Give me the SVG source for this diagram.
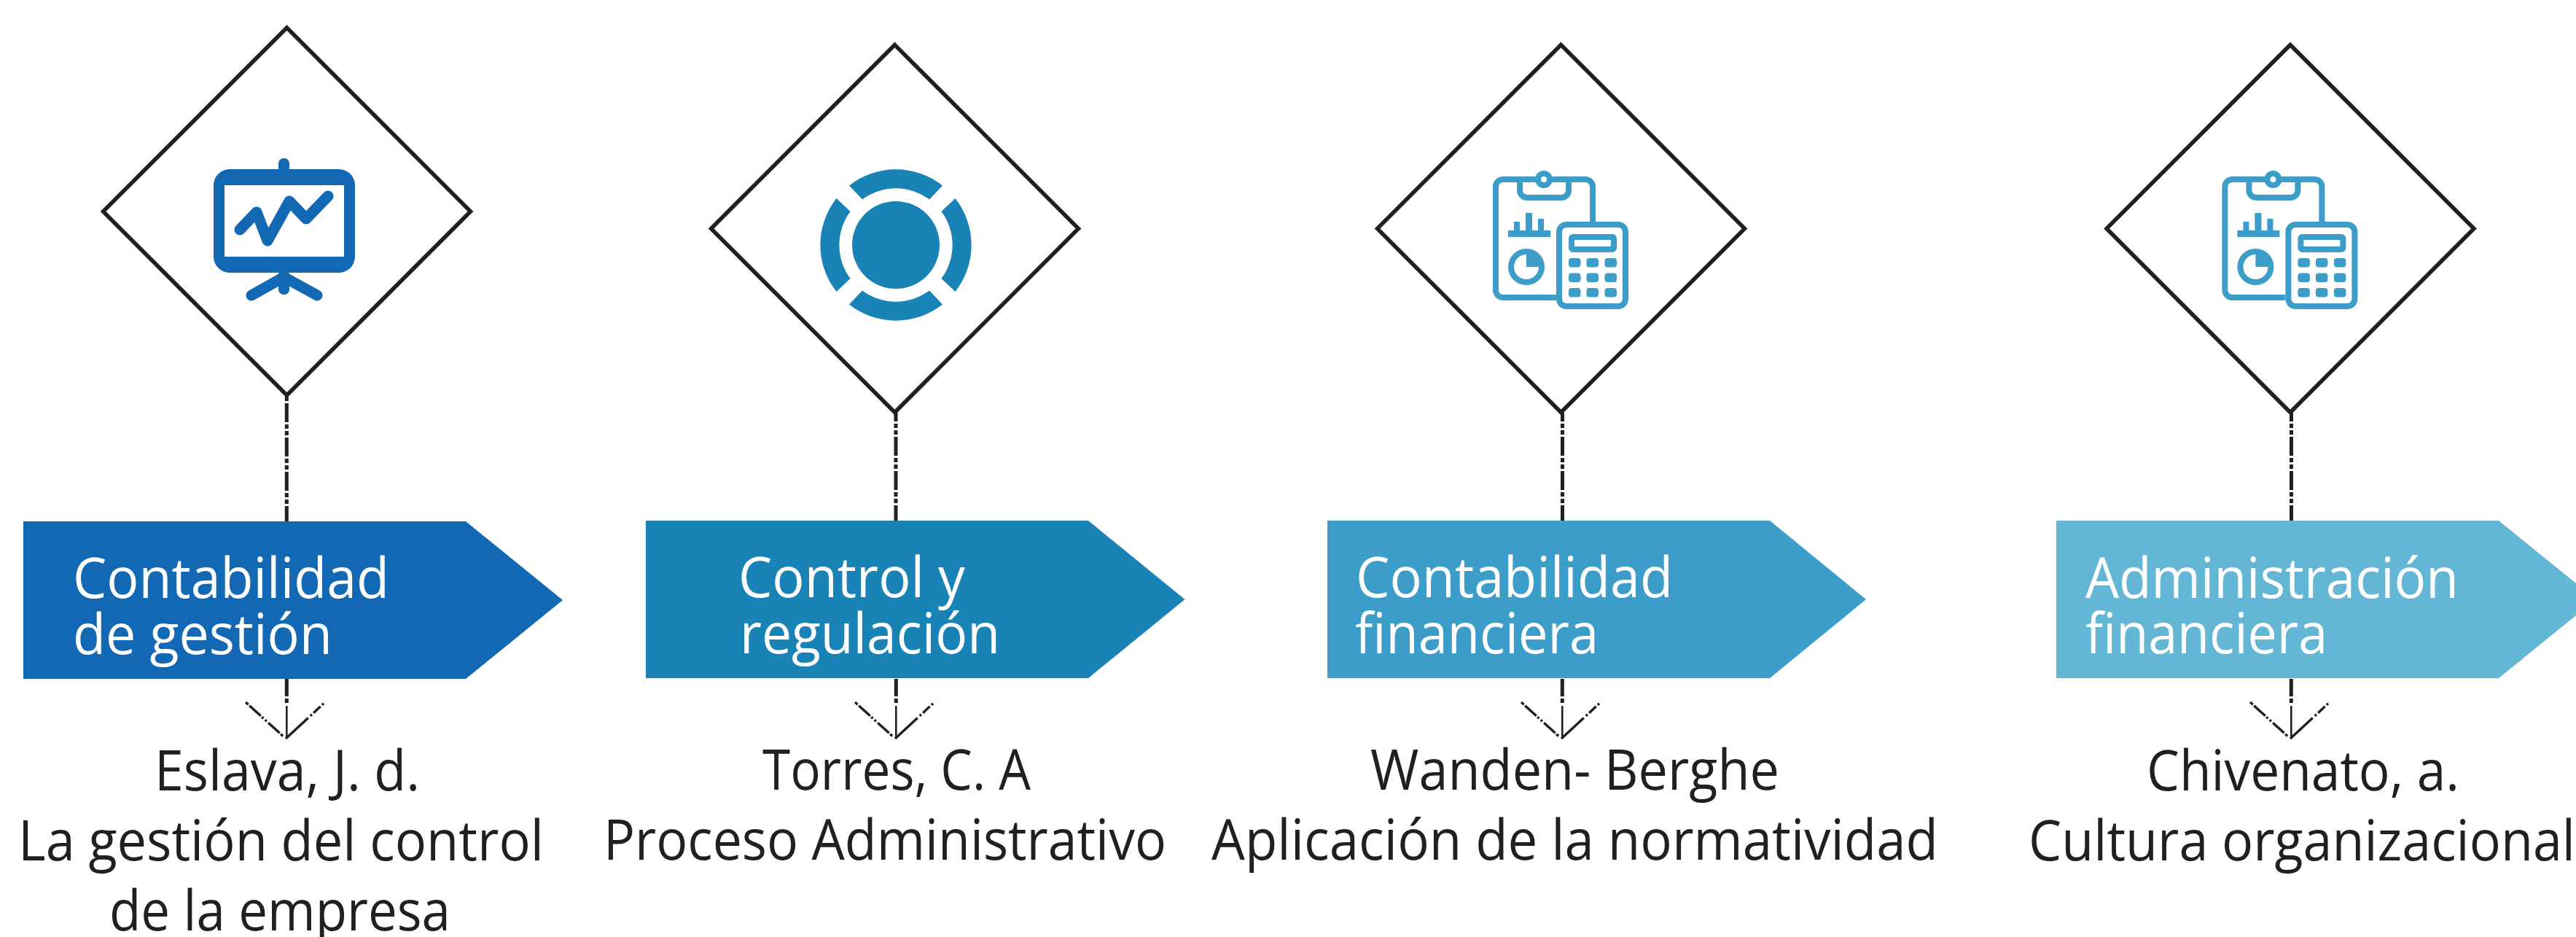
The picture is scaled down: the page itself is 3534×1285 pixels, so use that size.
<svg xmlns="http://www.w3.org/2000/svg" xmlns:xlink="http://www.w3.org/1999/xlink" width="3534" height="1285" viewBox="0 0 3534 1285">
<style>
text{font-family:"Open Sans","Noto Sans","Liberation Sans",sans-serif;font-size:77px}
.h{fill:#fff}
.b{fill:#231f20}
.d{fill:#fff;stroke:#231f20;stroke-width:5.500;stroke-miterlimit:10}
.stem{fill:none;stroke:#231f20;stroke-width:5;stroke-dasharray:26 3 6 3 6 3;stroke-dashoffset:37}
.thin{fill:none;stroke:#231f20;stroke-width:2.6}
.la{fill:none;stroke:#231f20;stroke-width:3.4;stroke-dasharray:5 2 21 2 3 3 3 3 21 2 4 30}
.ra{fill:none;stroke:#231f20;stroke-width:3.4;stroke-dasharray:42 4 3 3 13 3 3 40}
.ic{fill:none;stroke:#3c9dc8;stroke-width:8}
.if{fill:#3c9dc8}
</style>
<defs>
<g id="arrow">
<path class="la" d="M337,963 L391,1012"/>
<path class="ra" d="M392,1013 L447,962"/>
</g>
<path id="seg" fill="#1a83b6" d="M-64,-81.5 A103.5,103.5 0 0 1 64,-81.5 L46,-62.5 A77.5,77.5 0 0 0 -46,-62.5 Z"/>
<g id="calc">
<path class="ic" d="M2135,408 H2062 A10,10 0 0 1 2052,398 V256 A10,10 0 0 1 2062,246 H2175 A10,10 0 0 1 2185,256 V308"/>
<path class="ic" d="M2085,246 V261 A10,10 0 0 0 2095,271 H2142 A10,10 0 0 0 2152,261 V246"/>
<circle cx="2118" cy="246" r="8" fill="#fff" stroke="#3c9dc8" stroke-width="8"/>
<rect class="if" x="2069" y="316" width="58" height="9"/>
<rect class="if" x="2077" y="304" width="8" height="13"/>
<rect class="if" x="2093" y="292" width="9" height="25"/>
<rect class="if" x="2110" y="300" width="8" height="17"/>
<circle class="ic" cx="2094" cy="366" r="21"/>
<path class="if" d="M2094,366 V345 A21,21 0 0 1 2115,366 Z"/>
<rect x="2139" y="308" width="91" height="112" rx="10" fill="#fff" stroke="#3c9dc8" stroke-width="8"/>
<rect class="ic" x="2156" y="325" width="58" height="17" rx="2"/>
<g class="if">
<rect x="2152" y="354" width="16.500" height="12.500" rx="4"/><rect x="2176.500" y="354" width="16.500" height="12.500" rx="4"/><rect x="2201.500" y="354" width="16.500" height="12.500" rx="4"/>
<rect x="2152" y="374.500" width="16.500" height="12.500" rx="4"/><rect x="2176.500" y="374.500" width="16.500" height="12.500" rx="4"/><rect x="2201.500" y="374.500" width="16.500" height="12.500" rx="4"/>
<rect x="2152" y="395" width="16.500" height="12.500" rx="4"/><rect x="2176.500" y="395" width="16.500" height="12.500" rx="4"/><rect x="2201.500" y="395" width="16.500" height="12.500" rx="4"/>
</g>
</g>
</defs>
<rect width="3534" height="1285" fill="#fff"/>
<g id="connectors">
<path class="stem" d="M393.300,543 V715"/>
<path class="stem" d="M1229,566 V715" style="stroke-dashoffset:14"/>
<path class="stem" d="M2143.500,566 V715" style="stroke-dashoffset:14"/>
<path class="stem" d="M3143.500,566 V715" style="stroke-dashoffset:14"/>
<g id="down1"><path class="stem" d="M393.300,931 V968" style="stroke-dasharray:24 3 6 4"/><path class="thin" d="M393.300,968 V1012"/><use xlink:href="#arrow" href="#arrow"/></g>
<g id="down2" transform="translate(836 0)"><path class="stem" d="M393.300,931 V968" style="stroke-dasharray:24 3 6 4"/><path class="thin" d="M393.300,968 V1012"/><use xlink:href="#arrow" href="#arrow"/></g>
<g id="down3" transform="translate(1750 0)"><path class="stem" d="M393.300,931 V968" style="stroke-dasharray:24 3 6 4"/><path class="thin" d="M393.300,968 V1012"/><use xlink:href="#arrow" href="#arrow"/></g>
<g id="down4" transform="translate(2750 0)"><path class="stem" d="M393.300,931 V968" style="stroke-dasharray:24 3 6 4"/><path class="thin" d="M393.300,968 V1012"/><use xlink:href="#arrow" href="#arrow"/></g>
</g>
<g id="node1">
<polygon class="d" points="393.500,38 645.500,290 393.500,542 141.500,290"/>
<path fill="#1268b3" fill-rule="evenodd" d="M315,232 H465 A22,22 0 0 1 487,254 V352 A22,22 0 0 1 465,374 H315 A22,22 0 0 1 293,352 V254 A22,22 0 0 1 315,232 Z M308,254 V352 H472 V254 Z"/>
<rect x="382" y="217" width="15" height="20" rx="7" fill="#1268b3"/>
<rect x="382" y="370" width="15" height="34" rx="7" fill="#1268b3"/>
<path d="M345,405 L389.500,380 L435,405" fill="none" stroke="#1268b3" stroke-width="15" stroke-linecap="round" stroke-linejoin="round"/>
<path d="M329,315 L352,291 L367,330 L397,276 L420,300 L450,269" fill="none" stroke="#1268b3" stroke-width="15" stroke-linecap="round" stroke-linejoin="round"/>
<path fill="#1268b3" d="M32,715 H639 L772,823 L639,931 H32 Z"/>
<text class="h" x="100" y="820" textLength="434" lengthAdjust="spacingAndGlyphs">Contabilidad</text>
<text class="h" x="100" y="897" textLength="356" lengthAdjust="spacingAndGlyphs">de gestión</text>
<text class="b" x="212" y="1084" textLength="364" lengthAdjust="spacingAndGlyphs">Eslava, J. d.</text>
<text class="b" x="25" y="1180" textLength="721" lengthAdjust="spacingAndGlyphs">La gestión del control</text>
<text class="b" x="150" y="1276" textLength="468" lengthAdjust="spacingAndGlyphs">de la empresa</text>
</g>
<g id="node2">
<polygon class="d" points="1227.500,61.500 1479.500,313.500 1227.500,565.500 975.500,313.500"/>
<circle cx="1229" cy="336" r="60" fill="#1a83b6"/>
<g transform="translate(1229 336)">
<use xlink:href="#seg" href="#seg"/>
<use xlink:href="#seg" href="#seg" transform="rotate(90)"/>
<use xlink:href="#seg" href="#seg" transform="rotate(180)"/>
<use xlink:href="#seg" href="#seg" transform="rotate(270)"/>
</g>
<path fill="#1a83b6" d="M886,714 H1493 L1625.500,822 L1493,930 H886 Z"/>
<text class="h" x="1013" y="819" textLength="311" lengthAdjust="spacingAndGlyphs">Control y</text>
<text class="h" x="1015" y="896" textLength="357" lengthAdjust="spacingAndGlyphs">regulación</text>
<text class="b" x="1046" y="1083" textLength="368" lengthAdjust="spacingAndGlyphs">Torres, C. A</text>
<text class="b" x="828" y="1179" textLength="772" lengthAdjust="spacingAndGlyphs">Proceso Administrativo</text>
</g>
<g id="node3">
<polygon class="d" points="2141.500,61.500 2393.500,313.500 2141.500,565.500 1889.500,313.500"/>
<use xlink:href="#calc" href="#calc"/>
<path fill="#3c9dc8" d="M1821,714 H2428 L2560,822 L2428,930 H1821 Z"/>
<text class="h" x="1860" y="819" textLength="435" lengthAdjust="spacingAndGlyphs">Contabilidad</text>
<text class="h" x="1859" y="896" textLength="334" lengthAdjust="spacingAndGlyphs">financiera</text>
<text class="b" x="1880" y="1083" textLength="561" lengthAdjust="spacingAndGlyphs">Wanden- Berghe</text>
<text class="b" x="1662" y="1179" textLength="997" lengthAdjust="spacingAndGlyphs">Aplicación de la normatividad</text>
</g>
<g id="node4">
<polygon class="d" points="3142,61.500 3394,313.500 3142,565.500 2890,313.500"/>
<use xlink:href="#calc" href="#calc" transform="translate(1000.400 0)"/>
<path fill="#63b7d5" d="M2821,714 H3428 L3561,822 L3428,930 H2821 Z"/>
<text class="h" x="2861" y="820" textLength="512" lengthAdjust="spacingAndGlyphs">Administración</text>
<text class="h" x="2861" y="896" textLength="332" lengthAdjust="spacingAndGlyphs">financiera</text>
<text class="b" x="2945" y="1084" textLength="429" lengthAdjust="spacingAndGlyphs">Chivenato, a.</text>
<text class="b" x="2783" y="1180" textLength="750" lengthAdjust="spacingAndGlyphs">Cultura organizacional</text>
</g>
</svg>
